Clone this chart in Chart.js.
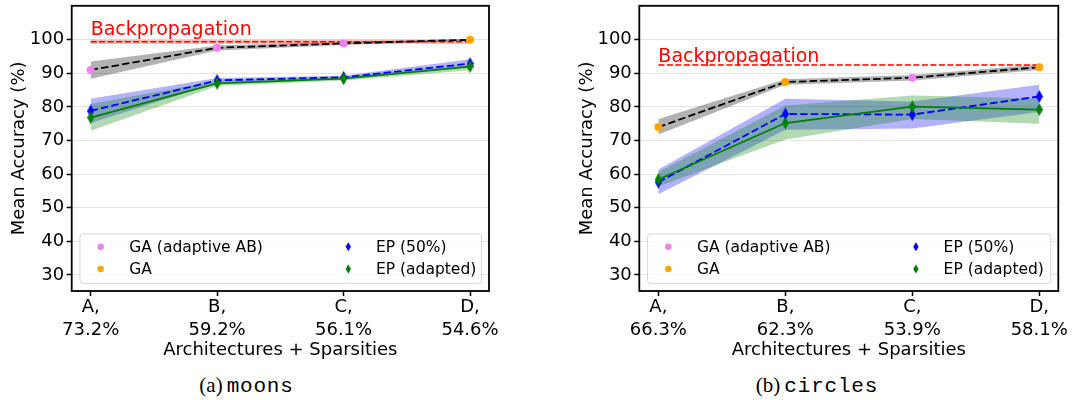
<!DOCTYPE html>
<html><head><meta charset="utf-8">
<script src="https://cdn.jsdelivr.net/npm/chart.js@4.4.1/dist/chart.umd.min.js"></script>
<style>
html,body{margin:0;padding:0;background:#fff;}
body{width:1075px;height:400px;overflow:hidden;position:relative;}
.wrap{position:absolute;top:0;height:365px;}
.cap{position:absolute;top:372px;height:26px;line-height:26px;text-align:center;color:#000;white-space:nowrap;}
.cap .s{font-family:'Liberation Serif','DejaVu Serif',serif;font-size:21px;}
.cap .m{font-family:'Liberation Mono','DejaVu Sans Mono',monospace;font-size:21px;letter-spacing:0.8px;}
</style></head><body>
<div class="wrap" style="left:0;width:540px"><canvas id="c1" width="540" height="365"></canvas></div>
<div class="wrap" style="left:540px;width:535px"><canvas id="c2" width="535" height="365"></canvas></div>
<div class="cap" style="left:0;width:493px"><span class="s">(a)</span> <span class="m">moons</span></div>
<div class="cap" style="left:700px;width:234px"><span class="s">(b)</span> <span class="m">circles</span></div>
<script>
// ---- data ----
const categories = ['A', 'B', 'C', 'D'];
const moonsSparsities = ['73.2%', '59.2%', '56.1%', '54.6%'];
const circlesSparsities = ['66.3%', '62.3%', '53.9%', '58.1%'];
const legendLabels = ['GA (adaptive AB)', 'GA', 'EP (50%)', 'EP (adapted)'];
const yTicks = [30, 40, 50, 60, 70, 80, 90, 100];

// moons
const moonsBackpropMean = 99.4;
const moonsBackpropLow = 98.8;
const moonsBackpropHigh = 100.0;
const moonsGABest = [91.0, 97.6, 98.9, 100.0];
const moonsGABestLow = [88.4, 96.8, 98.4, 99.7];
const moonsGABestHigh = [93.5, 98.3, 99.4, 100.2];
const moonsGABestMethod = ['GA (adaptive AB)', 'GA (adaptive AB)', 'GA (adaptive AB)', 'GA'];
const moonsEP50 = [78.8, 87.9, 88.8, 92.9];
const moonsEP50Low = [75.2, 87.2, 88.3, 91.9];
const moonsEP50High = [82.4, 88.6, 89.3, 94.2];
const moonsEPAdapted = [76.8, 87.0, 88.4, 92.0];
const moonsEPAdaptedLow = [72.9, 86.2, 87.9, 90.9];
const moonsEPAdaptedHigh = [80.9, 87.8, 88.9, 92.6];

// circles
const circlesBackpropMean = 92.5;
const circlesBackpropLow = 92.45;
const circlesBackpropHigh = 92.55;
const circlesGABest = [74.0, 87.4, 88.7, 91.8];
const circlesGABestLow = [71.8, 86.6, 87.9, 91.0];
const circlesGABestHigh = [76.4, 88.2, 89.5, 92.6];
const circlesGABestMethod = ['GA', 'GA', 'GA (adaptive AB)', 'GA'];
const circlesEP50 = [57.6, 77.9, 77.7, 83.1];
const circlesEP50Low = [54.0, 73.2, 73.6, 78.5];
const circlesEP50High = [61.4, 82.4, 81.6, 86.6];
const circlesEPAdapted = [58.4, 75.2, 80.1, 79.2];
const circlesEPAdaptedLow = [56.3, 70.3, 76.4, 75.0];
const circlesEPAdaptedHigh = [60.6, 80.4, 83.4, 82.5];

// ---- styles ----
const FONT = "'DejaVu Sans', 'Liberation Sans', sans-serif";
const methodColor = {'GA (adaptive AB)': 'violet', 'GA': 'orange', 'EP (50%)': 'blue', 'EP (adapted)': 'green'};

function diamond(color, w, h) {
  const c = document.createElement('canvas');
  c.width = w; c.height = h;
  const g = c.getContext('2d');
  g.fillStyle = color;
  g.beginPath();
  g.moveTo(w / 2, 0); g.lineTo(w, h / 2); g.lineTo(w / 2, h); g.lineTo(0, h / 2);
  g.closePath(); g.fill();
  return c;
}
const plotDiamond = {blue: diamond('blue', 7, 13), green: diamond('green', 7, 13)};

const framePlugin = {
  id: 'frame',
  afterDatasetsDraw(chart) {
    const a = chart.chartArea, ctx = chart.ctx;
    const bx = a.left + 8.3, bw = (a.right - a.left) - 15.8, bh = 49.3, by = a.bottom - 7.7 - bh;
    ctx.save();
    ctx.beginPath();
    if (ctx.roundRect) ctx.roundRect(bx, by, bw, bh, 3); else ctx.rect(bx, by, bw, bh);
    ctx.fillStyle = 'rgba(255,255,255,0.8)';
    ctx.fill();
    ctx.strokeStyle = 'rgba(204,204,204,0.8)';
    ctx.lineWidth = 1;
    ctx.stroke();
    const cols = [{m: 20.7, t: 49.3}, {m: 268.3, t: 296}];
    const rows = [12.7, 35.0];
    ctx.font = '15.5px ' + FONT;
    ctx.textBaseline = 'middle';
    ctx.textAlign = 'left';
    legendLabels.forEach((lab, i) => {
      const col = cols[Math.floor(i / 2)], row = rows[i % 2];
      const mx = bx + col.m, my = by + row;
      ctx.fillStyle = methodColor[lab];
      if (i < 2) {
        ctx.beginPath(); ctx.arc(mx, my, 3.2, 0, Math.PI * 2); ctx.fill();
      } else {
        ctx.beginPath();
        ctx.moveTo(mx, my - 4.5); ctx.lineTo(mx + 2.7, my); ctx.lineTo(mx, my + 4.5); ctx.lineTo(mx - 2.7, my);
        ctx.closePath(); ctx.fill();
      }
      ctx.fillStyle = '#000';
      ctx.fillText(lab, bx + col.t, my + 1);
    });
    ctx.restore();
  },
  afterDraw(chart) {
    const a = chart.chartArea, ctx = chart.ctx;
    ctx.save();
    ctx.strokeStyle = '#000';
    ctx.lineWidth = 1.8;
    ctx.strokeRect(a.left, a.top, a.right - a.left, a.bottom - a.top);
    const o = chart.options.plugins.bpLabel;
    ctx.fillStyle = 'red';
    ctx.font = '19px ' + FONT;
    ctx.textAlign = 'left';
    ctx.textBaseline = 'alphabetic';
    ctx.fillText('Backpropagation', chart.scales.x.getPixelForValue(0), chart.scales.y.getPixelForValue(o.y));
    ctx.restore();
  }
};

function makeChart(id, d, pad) {
  const pts = arr => arr.map((v, i) => ({x: i, y: v}));
  const flat = v => categories.map(() => v);
  const band = (arr, color, fillTo) => ({
    data: pts(arr), borderColor: 'rgba(0,0,0,0)', borderWidth: 0, pointRadius: 0,
    backgroundColor: color, fill: fillTo === undefined ? false : fillTo
  });
  const datasets = [
    {label: 'EP (adapted)', data: pts(d.epAd), borderColor: 'green', borderWidth: 1.8,
     pointStyle: plotDiamond.green, pointRadius: 4, fill: false},
    {label: 'EP (50%)', data: pts(d.ep50), borderColor: 'blue', borderWidth: 1.8, borderDash: [7.4, 3.2],
     pointStyle: plotDiamond.blue, pointRadius: 4, fill: false},
    {label: 'GA best', data: pts(d.ga), borderColor: '#000', borderWidth: 1.8, borderDash: [7.4, 3.2],
     pointBackgroundColor: d.gaMethod.map(m => methodColor[m]), pointBorderWidth: 0, pointRadius: 4, fill: false},
    {label: 'Backpropagation', data: pts(flat(d.bp)), borderColor: 'red', borderWidth: 1.5, borderDash: [6, 2.5],
     pointRadius: 0, fill: false},
    band(d.epAdHigh, 'rgba(0,128,0,0.3)', 5),
    band(d.epAdLow),
    band(d.ep50High, 'rgba(0,0,255,0.3)', 7),
    band(d.ep50Low),
    band(d.gaHigh, 'rgba(0,0,0,0.3)', 9),
    band(d.gaLow),
    band(flat(d.bpHigh), 'rgba(255,0,0,0.28)', 11),
    band(flat(d.bpLow))
  ];
  return new Chart(document.getElementById(id), {
    type: 'line',
    data: {datasets},
    plugins: [framePlugin],
    options: {
      responsive: false, animation: false, events: [],
      elements: {line: {tension: 0}},
      layout: {padding: {left: pad.left, right: pad.right, top: 3, bottom: 0}},
      plugins: {
        legend: {display: false}, tooltip: {enabled: false},
        filler: {drawTime: 'beforeDatasetsDraw'},
        bpLabel: {y: d.bpLabelY}
      },
      scales: {
        x: {
          type: 'linear', min: -0.15, max: 3.15,
          afterBuildTicks: ax => { ax.ticks = categories.map((c, i) => ({value: i})); },
          afterFit: ax => { ax.height = 74; ax.paddingLeft = 0; ax.paddingRight = 0; },
          border: {display: false},
          grid: {color: 'rgba(0,0,0,0)', tickColor: '#000', tickLength: 5, tickWidth: 1.5, drawTicks: true},
          ticks: {
            color: '#000', padding: 0.5, maxRotation: 0, autoSkip: false,
            font: {family: FONT, size: 18, lineHeight: 1.25},
            callback: v => [categories[v] + ',', d.sparsities[v]]
          },
          title: {display: true, text: 'Architectures + Sparsities', color: '#000',
                  font: {family: FONT, size: 18, lineHeight: 1.2}, padding: {top: 0, bottom: 4.3}}
        },
        y: {
          min: 25.2, max: 110.1,
          afterBuildTicks: ax => { ax.ticks = yTicks.map(v => ({value: v})); },
          afterFit: ax => { ax.width = 71.7; ax.paddingTop = 0; ax.paddingBottom = 0; },
          border: {display: false},
          grid: {color: '#e3e3e3', lineWidth: 1, tickColor: '#000', tickLength: 5, tickWidth: 1.5, drawTicks: true},
          ticks: {color: '#000', padding: 2.5, font: {family: FONT, size: 18}},
          title: {display: true, text: 'Mean Accuracy (%)', color: '#000',
                  font: {family: FONT, size: 18, lineHeight: 1.2}, padding: {top: 8.7, bottom: 0}}
        }
      }
    }
  });
}

makeChart('c1', {
  sparsities: moonsSparsities,
  bp: moonsBackpropMean, bpLow: moonsBackpropLow, bpHigh: moonsBackpropHigh, bpLabelY: 101.3,
  ga: moonsGABest, gaLow: moonsGABestLow, gaHigh: moonsGABestHigh, gaMethod: moonsGABestMethod,
  ep50: moonsEP50, ep50Low: moonsEP50Low, ep50High: moonsEP50High,
  epAd: moonsEPAdapted, epAdLow: moonsEPAdaptedLow, epAdHigh: moonsEPAdaptedHigh
}, {left: 0, right: 51});

makeChart('c2', {
  sparsities: circlesSparsities,
  bp: circlesBackpropMean, bpLow: circlesBackpropLow, bpHigh: circlesBackpropHigh, bpLabelY: 93.3,
  ga: circlesGABest, gaLow: circlesGABestLow, gaHigh: circlesGABestHigh, gaMethod: circlesGABestMethod,
  ep50: circlesEP50, ep50Low: circlesEP50Low, ep50High: circlesEP50High,
  epAd: circlesEPAdapted, epAdLow: circlesEPAdaptedLow, epAdHigh: circlesEPAdaptedHigh
}, {left: 27.6, right: 16.7});
</script>
</body></html>
